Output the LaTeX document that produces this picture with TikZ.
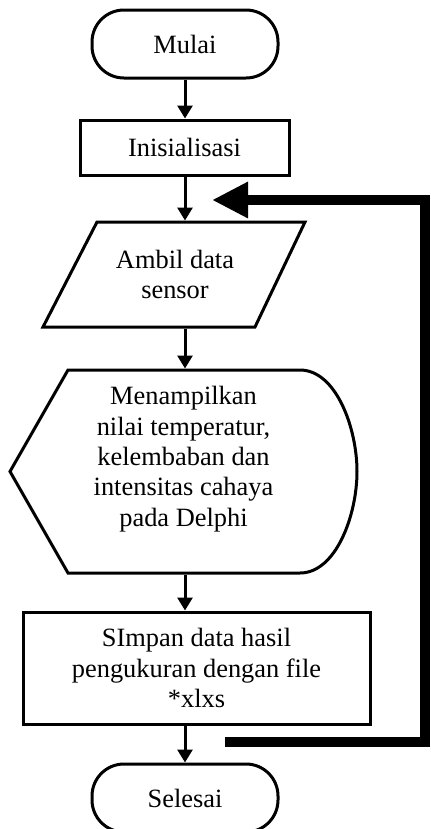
\documentclass[tikz,border=0pt]{standalone}
\usepackage{fontspec}
\setmainfont{Liberation Serif}
\usetikzlibrary{arrows.meta}

\tikzset{every picture/.style={line width=2.25pt}}

\begin{document}
\begin{tikzpicture}[x=0.75pt,y=0.75pt,yscale=-1,xscale=1,
  font=\fontsize{19.8}{22.8}\selectfont,
  terminal/.style={draw, rounded corners=24pt, minimum width=139.5pt, minimum height=51pt, inner sep=0.75pt},
  process/.style={draw, align=center, inner sep=0.75pt},
  flow/.style={-{Triangle[length=9.75pt,width=11.25pt]}},
  balik/.style={line width=7.5pt, -{Triangle[length=27pt,width=25.5pt]}}]
%set diagram left start at 0, and has height of 829
\useasboundingbox (0,0) rectangle (430,829);

%Shape: Terminator [id:mulai]
\node[terminal] (mulai) at (185,44) {Mulai};
%Shape: Rectangle [id:init]
\node[process, minimum width=156.75pt, minimum height=41.25pt] (init) at (184.5,147.5) {Inisialisasi};

%Shape: Parallelogram [id:ambil]
\draw (97,222) -- (305,222) -- (255,327) -- (43,327) -- cycle ;
% Text Node
\node[align=center, inner sep=0.75pt, minimum width=157.5pt, minimum height=78.75pt] (ambil) at (175,274.5) {Ambil data\\sensor};

%Shape: Display [id:tampil]
\draw (10,471.5) -- (68,370) -- (300,370) .. controls (336,370) and (357,428) .. (357,471.5) .. controls (357,515) and (336,573) .. (300,573) -- (68,573) -- cycle ;
% Text Node
\node[align=center, inner sep=0.75pt, minimum width=260.25pt, minimum height=152.25pt] (tampil) at (183.5,471.5) {Menampilkan\\nilai temperatur,\\kelembaban dan\\intensitas cahaya\\pada Delphi\\~};

%Shape: Rectangle [id:simpan]
\node[process, minimum width=260.25pt, minimum height=84pt] (simpan) at (196.5,668) {SImpan data hasil\\pengukuran dengan file\\*xlxs};
%Shape: Terminator [id:selesai]
\node[terminal] (selesai) at (185,798) {Selesai};

%Straight Lines
\draw[flow] (mulai.south) -- (mulai.south |- init.north) ;
\draw[flow] (mulai.south |- init.south) -- (mulai.south |- ambil.north) ;
\draw[flow] (mulai.south |- ambil.south) -- (mulai.south |- tampil.north) ;
\draw[flow] (mulai.south |- tampil.south) -- (mulai.south |- simpan.north) ;
\draw[flow] (mulai.south |- simpan.south) -- (selesai.north) ;

%Loop back
\coordinate (loopin) at (225,742);
\coordinate (loopsudut) at (425,742);
\coordinate (loopujung) at (212,200);
\draw[balik] (loopin) -- (loopsudut) |- (loopujung) ;

\end{tikzpicture}
\end{document}
